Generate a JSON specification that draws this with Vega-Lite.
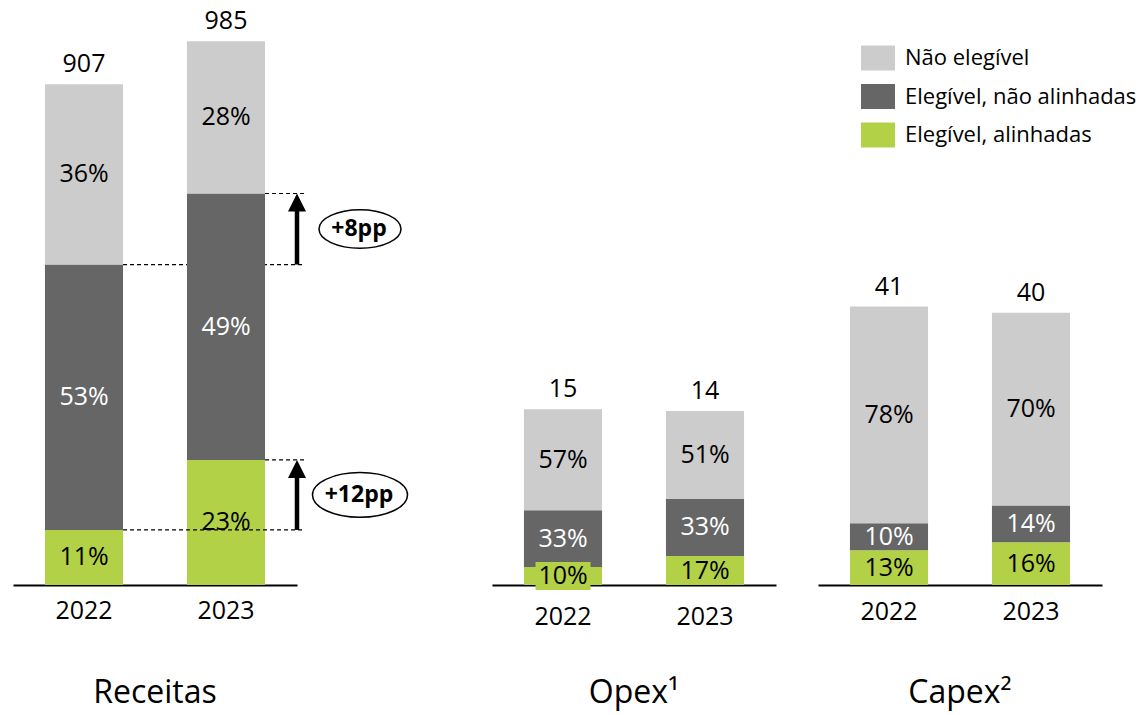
{
  "$schema": "https://vega.github.io/schema/vega-lite/v6.json",
  "padding": {"left": 13, "top": 5, "right": 0, "bottom": 10},
  "background": "white",
  "config": {
    "view": {"stroke": null},
    "font": "Open Sans",
    "axisX": {"domainColor": "black", "domainWidth": 2, "ticks": false, "labelFontSize": 25, "labelColor": "black", "labelAngle": 0, "labelPadding": 13, "title": null, "grid": false},
    "title": {"fontSize": 32, "fontWeight": "normal", "color": "black", "orient": "bottom", "anchor": "middle", "offset": 55},
    "legend": {"title": null, "labelFontSize": 22, "labelColor": "black", "labelOffset": 10, "rowPadding": 8.5, "symbolStrokeWidth": 0, "symbolOpacity": 1, "labelLimit": 400, "symbolType": "M-1,-0.735 L1,-0.735 L1,0.735 L-1,0.735 Z", "symbolSize": 1156}
  },
  "datasets": {
    "bars": [
      {"panel": "Receitas", "year": "2022", "cat": "Elegível, alinhadas", "ord": 1, "pct": 11, "value": 99.8, "total": 907},
      {"panel": "Receitas", "year": "2022", "cat": "Elegível, não alinhadas", "ord": 2, "pct": 53, "value": 480.7, "total": 907},
      {"panel": "Receitas", "year": "2022", "cat": "Não elegível", "ord": 3, "pct": 36, "value": 326.5, "total": 907},
      {"panel": "Receitas", "year": "2023", "cat": "Elegível, alinhadas", "ord": 1, "pct": 23, "value": 226.6, "total": 985},
      {"panel": "Receitas", "year": "2023", "cat": "Elegível, não alinhadas", "ord": 2, "pct": 49, "value": 482.6, "total": 985},
      {"panel": "Receitas", "year": "2023", "cat": "Não elegível", "ord": 3, "pct": 28, "value": 275.8, "total": 985},
      {"panel": "Opex", "year": "2022", "cat": "Elegível, alinhadas", "ord": 1, "pct": 10, "value": 1.49, "total": 15},
      {"panel": "Opex", "year": "2022", "cat": "Elegível, não alinhadas", "ord": 2, "pct": 33, "value": 4.73, "total": 15},
      {"panel": "Opex", "year": "2022", "cat": "Não elegível", "ord": 3, "pct": 57, "value": 8.38, "total": 15},
      {"panel": "Opex", "year": "2023", "cat": "Elegível, alinhadas", "ord": 1, "pct": 17, "value": 2.41, "total": 14},
      {"panel": "Opex", "year": "2023", "cat": "Elegível, não alinhadas", "ord": 2, "pct": 33, "value": 4.74, "total": 14},
      {"panel": "Opex", "year": "2023", "cat": "Não elegível", "ord": 3, "pct": 51, "value": 7.3, "total": 14},
      {"panel": "Capex", "year": "2022", "cat": "Elegível, alinhadas", "ord": 1, "pct": 13, "value": 5.1, "total": 41},
      {"panel": "Capex", "year": "2022", "cat": "Elegível, não alinhadas", "ord": 2, "pct": 10, "value": 4.0, "total": 41},
      {"panel": "Capex", "year": "2022", "cat": "Não elegível", "ord": 3, "pct": 78, "value": 31.9, "total": 41},
      {"panel": "Capex", "year": "2023", "cat": "Elegível, alinhadas", "ord": 1, "pct": 16, "value": 6.3, "total": 40},
      {"panel": "Capex", "year": "2023", "cat": "Elegível, não alinhadas", "ord": 2, "pct": 14, "value": 5.4, "total": 40},
      {"panel": "Capex", "year": "2023", "cat": "Não elegível", "ord": 3, "pct": 70, "value": 28.4, "total": 40}
    ],
    "arrows": [
      {"label": "+8pp", "from": 580.5, "to": 709.2},
      {"label": "+12pp", "from": 99.8, "to": 226.6}
    ],
    "dashes": [
      {"grp": "+8pp", "start": "2022", "y": 580.5},
      {"grp": "+8pp", "start": "2023", "y": 709.2},
      {"grp": "+12pp", "start": "2022", "y": 99.8},
      {"grp": "+12pp", "start": "2023", "y": 226.6}
    ]
  },
  "bounds": "flush",
  "spacing": 195,
  "hconcat": [
    {
      "width": 284, "height": 580,
      "title": {"text": "Receitas"},
      "layer": [
        {
          "data": {"name": "dashes"},
          "transform": [{"filter": "datum.grp === '+8pp'"}],
          "mark": {"type": "rule", "strokeDash": [4, 3], "strokeWidth": 1.2, "color": "black", "x2Offset": 8},
          "encoding": {
            "x": {"field": "start", "type": "nominal", "bandPosition": 1, "scale": {"paddingInner": 0.45, "paddingOuter": 0.225}, "axis": {"labelPadding": 13}},
            "x2": {"value": "width"},
            "y": {"field": "y", "type": "quantitative", "scale": {"domain": [0, 1050.7], "nice": false}, "axis": null}
          }
        },
        {
          "data": {"name": "bars"},
          "transform": [
            {"filter": "datum.panel === 'Receitas'"},
            {"stack": "value", "groupby": ["year"], "sort": [{"field": "ord", "order": "ascending"}], "as": ["v0", "v1"]}
          ],
          "mark": {"type": "bar"},
          "encoding": {
            "x": {"field": "year", "type": "nominal", "scale": {"paddingInner": 0.45, "paddingOuter": 0.225}},
            "y": {"field": "v0", "type": "quantitative", "axis": null},
            "y2": {"field": "v1"},
            "color": {"field": "cat", "type": "nominal", "scale": {"domain": ["Não elegível", "Elegível, não alinhadas", "Elegível, alinhadas"], "range": ["#cccccc", "#666666", "#b2d147"]}, "legend": {"orient": "none", "legendX": 848, "legendY": 36}}
          }
        },
        {
          "data": {"name": "dashes"},
          "transform": [{"filter": "datum.grp === '+12pp'"}],
          "mark": {"type": "rule", "strokeDash": [4, 3], "strokeWidth": 1.2, "color": "black", "x2Offset": 8},
          "encoding": {
            "x": {"field": "start", "type": "nominal", "bandPosition": 1},
            "x2": {"value": "width"},
            "y": {"field": "y", "type": "quantitative", "axis": null}
          }
        },
        {
          "data": {"name": "bars"},
          "transform": [
            {"filter": "datum.panel === 'Receitas'"},
            {"stack": "value", "groupby": ["year"], "sort": [{"field": "ord", "order": "ascending"}], "as": ["v0", "v1"]},
            {"calculate": "(datum.v0 + datum.v1) / 2", "as": "mid"},
            {"calculate": "datum.pct + '%'", "as": "plabel"}
          ],
          "mark": {"type": "text", "fontSize": 25, "baseline": "middle"},
          "encoding": {
            "x": {"field": "year", "type": "nominal"},
            "y": {"field": "mid", "type": "quantitative", "axis": null},
            "text": {"field": "plabel"},
            "color": {"condition": {"test": "datum.ord === 2", "value": "white"}, "value": "black"}
          }
        },
        {
          "data": {"name": "bars"},
          "transform": [
            {"filter": "datum.panel === 'Receitas'"},
            {"stack": "value", "groupby": ["year"], "sort": [{"field": "ord", "order": "ascending"}], "as": ["v0", "v1"]},
            {"filter": "datum.ord === 3"}
          ],
          "mark": {"type": "text", "fontSize": 25, "baseline": "alphabetic", "dy": -12, "color": "black"},
          "encoding": {
            "x": {"field": "year", "type": "nominal"},
            "y": {"field": "v1", "type": "quantitative", "axis": null},
            "text": {"field": "total", "type": "quantitative", "format": "d"}
          }
        },
        {
          "data": {"name": "arrows"},
          "mark": {"type": "rule", "strokeWidth": 4.5, "color": "black", "y2Offset": 12},
          "encoding": {
            "x": {"value": "width"},
            "y": {"field": "from", "type": "quantitative", "axis": null},
            "y2": {"field": "to"}
          }
        },
        {
          "data": {"name": "arrows"},
          "mark": {"type": "point", "shape": "M0,0 L-0.5,1 L0.5,1 Z", "size": 1296, "filled": true, "color": "black", "opacity": 1},
          "encoding": {
            "x": {"value": "width"},
            "y": {"field": "to", "type": "quantitative", "axis": null}
          }
        },
        {
          "data": {"name": "arrows"},
          "transform": [{"calculate": "(datum.from + datum.to) / 2", "as": "mid"}],
          "mark": {"type": "point", "shape": "M-1,0 C-1,-0.26 -0.552,-0.47 0,-0.47 C0.552,-0.47 1,-0.26 1,0 C1,0.26 0.552,0.47 0,0.47 C-0.552,0.47 -1,0.26 -1,0 Z", "filled": false, "fill": "white", "fillOpacity": 1, "stroke": "black", "strokeWidth": 1.5, "opacity": 1, "xOffset": 63},
          "encoding": {
            "x": {"value": "width"},
            "y": {"field": "mid", "type": "quantitative", "axis": null},
            "size": {"condition": {"test": "datum.label === '+12pp'", "value": 9025}, "value": 6724}
          }
        },
        {
          "data": {"name": "arrows"},
          "transform": [{"calculate": "(datum.from + datum.to) / 2", "as": "mid"}],
          "mark": {"type": "text", "fontSize": 23, "fontWeight": "bold", "baseline": "middle", "align": "center", "xOffset": 62, "color": "black"},
          "encoding": {
            "x": {"value": "width"},
            "y": {"field": "mid", "type": "quantitative", "axis": null},
            "text": {"field": "label"}
          }
        }
      ]
    },
    {
      "bounds": "flush",
      "spacing": 42,
      "hconcat": [
        {
          "width": 284, "height": 580,
          "title": {"text": "Opex¹", "offset": 49},
          "layer": [
            {
              "data": {"name": "bars"},
              "transform": [
                {"filter": "datum.panel === 'Opex'"},
                {"stack": "value", "groupby": ["year"], "sort": [{"field": "ord", "order": "ascending"}], "as": ["v0", "v1"]}
              ],
              "mark": {"type": "bar"},
              "encoding": {
                "x": {"field": "year", "type": "nominal", "scale": {"paddingInner": 0.45, "paddingOuter": 0.225}, "axis": {"labelPadding": 19}},
                "y": {"field": "v0", "type": "quantitative", "scale": {"domain": [0, 48.2], "nice": false}, "axis": null},
                "y2": {"field": "v1"},
                "color": {"field": "cat", "type": "nominal", "scale": {"domain": ["Não elegível", "Elegível, não alinhadas", "Elegível, alinhadas"], "range": ["#cccccc", "#666666", "#b2d147"]}, "legend": {"orient": "none", "legendX": 848, "legendY": 36}}
              }
            },
            {
              "data": {"name": "bars"},
              "transform": [
                {"filter": "datum.panel === 'Opex'"},
                {"stack": "value", "groupby": ["year"], "sort": [{"field": "ord", "order": "ascending"}], "as": ["v0", "v1"]},
                {"calculate": "(datum.v0 + datum.v1) / 2", "as": "mid"},
                {"filter": "datum.year === '2022' && datum.ord === 1"}
              ],
              "mark": {"type": "point", "shape": "M-1,-0.51 L1,-0.51 L1,0.51 L-1,0.51 Z", "size": 3025, "filled": true, "color": "#b2d147", "opacity": 1},
              "encoding": {
                "x": {"field": "year", "type": "nominal"},
                "y": {"field": "mid", "type": "quantitative", "axis": null}
              }
            },
            {
              "data": {"name": "bars"},
              "transform": [
                {"filter": "datum.panel === 'Opex'"},
                {"stack": "value", "groupby": ["year"], "sort": [{"field": "ord", "order": "ascending"}], "as": ["v0", "v1"]},
                {"calculate": "(datum.v0 + datum.v1) / 2", "as": "mid"},
                {"calculate": "datum.pct + '%'", "as": "plabel"}
              ],
              "mark": {"type": "text", "fontSize": 25, "baseline": "middle"},
              "encoding": {
                "x": {"field": "year", "type": "nominal"},
                "y": {"field": "mid", "type": "quantitative", "axis": null},
                "text": {"field": "plabel"},
                "color": {"condition": {"test": "datum.ord === 2", "value": "white"}, "value": "black"}
              }
            },
            {
              "data": {"name": "bars"},
              "transform": [
                {"filter": "datum.panel === 'Opex'"},
                {"stack": "value", "groupby": ["year"], "sort": [{"field": "ord", "order": "ascending"}], "as": ["v0", "v1"]},
                {"filter": "datum.ord === 3"}
              ],
              "mark": {"type": "text", "fontSize": 25, "baseline": "alphabetic", "dy": -12, "color": "black"},
              "encoding": {
                "x": {"field": "year", "type": "nominal"},
                "y": {"field": "v1", "type": "quantitative", "axis": null},
                "text": {"field": "total", "type": "quantitative", "format": "d"}
              }
            }
          ]
        },
        {
          "width": 284, "height": 580,
          "title": {"text": "Capex²", "offset": 54},
          "layer": [
            {
              "data": {"name": "bars"},
              "transform": [
                {"filter": "datum.panel === 'Capex'"},
                {"stack": "value", "groupby": ["year"], "sort": [{"field": "ord", "order": "ascending"}], "as": ["v0", "v1"]}
              ],
              "mark": {"type": "bar"},
              "encoding": {
                "x": {"field": "year", "type": "nominal", "scale": {"paddingInner": 0.45, "paddingOuter": 0.225}, "axis": {"labelPadding": 14}},
                "y": {"field": "v0", "type": "quantitative", "scale": {"domain": [0, 85.4], "nice": false}, "axis": null},
                "y2": {"field": "v1"},
                "color": {"field": "cat", "type": "nominal", "scale": {"domain": ["Não elegível", "Elegível, não alinhadas", "Elegível, alinhadas"], "range": ["#cccccc", "#666666", "#b2d147"]}, "legend": {"orient": "none", "legendX": 848, "legendY": 36}}
              }
            },
            {
              "data": {"name": "bars"},
              "transform": [
                {"filter": "datum.panel === 'Capex'"},
                {"stack": "value", "groupby": ["year"], "sort": [{"field": "ord", "order": "ascending"}], "as": ["v0", "v1"]},
                {"calculate": "(datum.v0 + datum.v1) / 2", "as": "mid"},
                {"calculate": "datum.pct + '%'", "as": "plabel"}
              ],
              "mark": {"type": "text", "fontSize": 25, "baseline": "middle"},
              "encoding": {
                "x": {"field": "year", "type": "nominal"},
                "y": {"field": "mid", "type": "quantitative", "axis": null},
                "text": {"field": "plabel"},
                "color": {"condition": {"test": "datum.ord === 2", "value": "white"}, "value": "black"}
              }
            },
            {
              "data": {"name": "bars"},
              "transform": [
                {"filter": "datum.panel === 'Capex'"},
                {"stack": "value", "groupby": ["year"], "sort": [{"field": "ord", "order": "ascending"}], "as": ["v0", "v1"]},
                {"filter": "datum.ord === 3"}
              ],
              "mark": {"type": "text", "fontSize": 25, "baseline": "alphabetic", "dy": -12, "color": "black"},
              "encoding": {
                "x": {"field": "year", "type": "nominal"},
                "y": {"field": "v1", "type": "quantitative", "axis": null},
                "text": {"field": "total", "type": "quantitative", "format": "d"}
              }
            }
          ]
        }
      ]
    }
  ]
}
